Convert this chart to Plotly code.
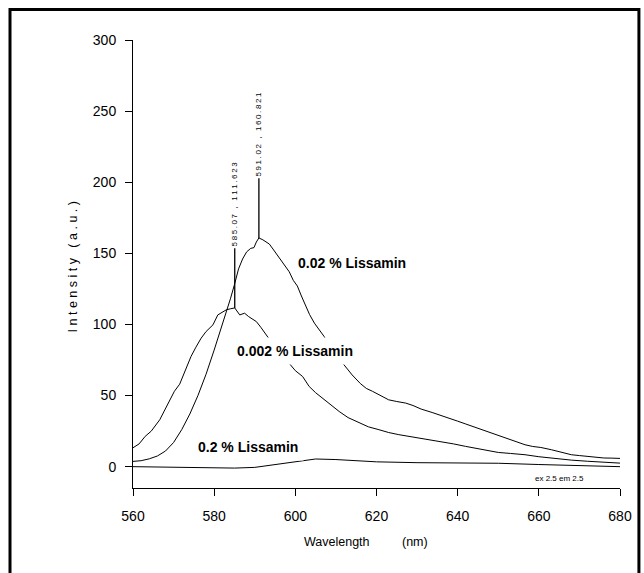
import plotly.graph_objects as go

# Emission spectra of Lissamin at three concentrations
wl_002 = [560, 562, 564, 566, 568, 570, 572, 574, 576, 578, 580, 582, 583, 584, 585,
          586, 587, 588, 589, 589.8, 590.4, 591.02, 592, 593, 593.6, 594.5, 595.5,
          596.5, 597.5, 598.5, 599.5, 600.5, 601.5, 602.6, 603.5, 604.7, 606, 607.1,
          608.5, 610, 612, 614, 616, 617.5, 619, 620.2, 621.5, 623, 625, 627.2, 629,
          631, 633.7, 635.5, 637.8, 640, 642, 644, 646, 648, 650, 652, 654, 656.6,
          658.5, 660.5, 663.1, 665.5, 668, 670, 672, 674, 676, 678, 680]
int_002 = [3.7, 4.2, 5.5, 7.5, 11, 17, 26, 37, 50, 65, 82, 100, 108, 118, 128,
           139, 146, 151, 153.5, 154, 158, 160.821, 159.5, 158, 156.5, 153, 149,
           145, 141, 137, 131, 127, 120, 112.6, 107, 100.9, 96, 91.5,
           85, 78, 71.6, 64.5, 58.5, 55, 53, 51.3, 49, 47, 45.8, 44.7, 43,
           40.5, 38.1, 36.5, 34.2, 32, 30, 28, 26.5, 24.5, 22.5, 20, 18.2, 15.4,
           14.2, 13.5, 11.9, 10, 8.4, 7.8, 7.2, 6.6, 6.1, 6, 5.8]

wl_0002 = [560, 561.5, 563, 564.5, 566.6, 568, 569, 570.2, 571.5, 573, 574.3, 575.5,
           576.8, 578, 579.7, 580.9, 582, 583, 584, 585.07, 586.3, 587.5, 588.5,
           590.4, 591.5, 592.8, 594.5, 596, 597.5, 598.9, 600, 601.8, 603.4, 605,
           606.5, 608.3, 610.8, 613, 615.7, 618, 620.6, 623, 625.5, 628, 630.5,
           633.7, 636.5, 639, 641.9, 645, 648, 650, 653, 656.6, 660, 664.8, 668,
           672, 675.8, 680]
int_0002 = [13.3, 16, 21.3, 25, 33, 41, 47, 53, 58, 68, 77.5, 84,
            90.4, 95, 99.7, 106.7, 108.5, 110.3, 111, 111.623, 106.7, 107.9, 105.5,
            102, 98, 92.7, 86, 80, 76, 71.6, 67.5, 63.4, 56.4, 52,
            48.5, 44.2, 38.8, 34.5, 30.7, 28, 26, 24, 22.5, 21.3, 20.2,
            19, 17.5, 16, 14.3, 12.5, 11, 10, 9.3, 8.4, 7, 5.4, 4.6,
            3.8, 3, 2.5]

wl_02 = [560, 570, 580, 585, 590, 595, 600, 605, 610, 615, 620, 630, 640, 650, 660, 670, 680]
int_02 = [0, -0.3, -0.8, -1, -0.5, 1.4, 3, 5.4, 5, 4, 3.4, 2.8, 2.5, 2.4, 1.5, 1, 0]

# Marked peaks: (wavelength, intensity)
peaks = [(585.07, 111.623), (591.02, 160.821)]

series_labels = ["0.02 % Lissamin", "0.002 % Lissamin", "0.2 % Lissamin"]
label_pos = [(613.9, 143.5), (599.9, 81.5), (588.3, 13.6)]

x_ticks = [560, 580, 600, 620, 640, 660, 680]
y_ticks = [0, 50, 100, 150, 200, 250, 300]

SANS = "Liberation Sans, Arial, sans-serif"
THIN = "\u2009"

fig = go.Figure()
for wl, iv in [(wl_002, int_002), (wl_0002, int_0002), (wl_02, int_02)]:
    fig.add_trace(go.Scatter(x=wl, y=iv, mode="lines",
                             line=dict(color="black", width=1),
                             showlegend=False, hoverinfo="skip"))

# Peak marker stems and rotated value labels
stem = 42
for px, py in peaks:
    fig.add_shape(type="line", x0=px, x1=px, y0=py, y1=py + stem,
                  xref="x", yref="y", line=dict(color="black", width=1.3))
    txt = THIN.join(f"{px:.2f} , {py:.3f}")
    fig.add_annotation(x=px, y=py + stem, xref="x", yref="y", text=txt,
                       textangle=-90, showarrow=False, xanchor="center",
                       yanchor="bottom", font=dict(family=SANS, size=8, color="black"))

for text, (lx, ly) in zip(series_labels, label_pos):
    fig.add_annotation(x=lx, y=ly, xref="x", yref="y", text=f"<b>{text}</b>",
                       showarrow=False, bgcolor="white", borderpad=5,
                       font=dict(family=SANS, size=14, color="black"))

fig.add_annotation(x=665.2, y=-8.0, xref="x", yref="y", text="ex 2.5 em 2.5",
                   showarrow=False, xanchor="center", yanchor="middle",
                   font=dict(family=SANS, size=8, color="black"))

# Axis titles
fig.add_annotation(x=-0.1227, y=0.493, xref="paper", yref="paper",
                   xanchor="center", yanchor="middle",
                   text=" ".join("Intensity (a.u.)"), textangle=-90, showarrow=False,
                   font=dict(family=SANS, size=12.5, color="black"))
fig.add_annotation(x=610.2, y=-0.1205, xref="x", yref="paper", text="Wavelength",
                   xanchor="center", yanchor="middle", showarrow=False,
                   font=dict(family=SANS, size=12.5, color="black"))
fig.add_annotation(x=629.4, y=-0.1205, xref="x", yref="paper", text="(nm)",
                   xanchor="center", yanchor="middle", showarrow=False,
                   font=dict(family=SANS, size=12.5, color="black"))

# Outer frame
fig.add_shape(type="rect", xref="paper", yref="paper",
              x0=(9.5 - 133) / 489, x1=(641 - 133) / 489,
              y0=(488 - 590) / 448, y1=(488 - 9.5) / 448,
              line=dict(color="black", width=3), fillcolor="rgba(0,0,0,0)")

fig.update_xaxes(range=[560, 680], tickvals=x_ticks, ticks="outside", ticklen=7,
                 tickcolor="black", showline=True, linecolor="black", linewidth=1,
                 showgrid=False, zeroline=False, ticklabelstandoff=8,
                 tickfont=dict(family=SANS, size=14, color="black"))
fig.update_yaxes(range=[-15, 300], tickvals=y_ticks, ticks="outside", ticklen=7,
                 tickcolor="black", showline=True, linecolor="black", linewidth=1,
                 showgrid=False, zeroline=False, ticklabelstandoff=6,
                 tickfont=dict(family=SANS, size=14, color="black"))

fig.update_layout(width=644, height=573, margin=dict(l=133, r=22, t=40, b=85),
                  plot_bgcolor="white", paper_bgcolor="white")

fig.write_html("out.html")
